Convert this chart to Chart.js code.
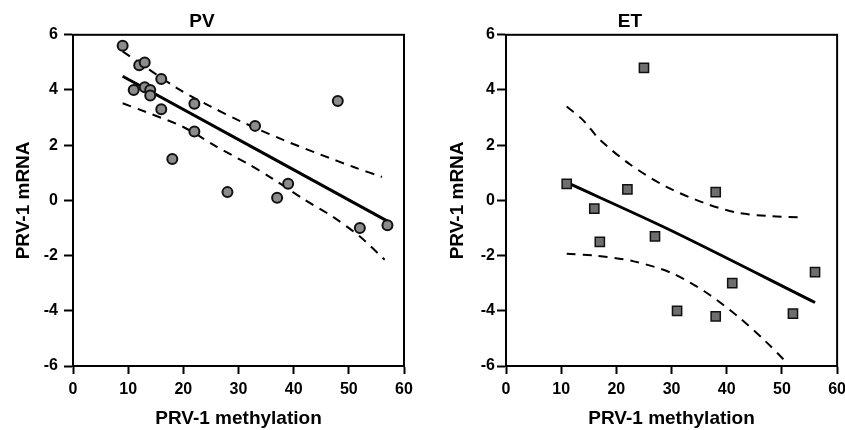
<!DOCTYPE html>
<html>
<head>
<meta charset="utf-8">
<script src="https://cdn.jsdelivr.net/npm/chart.js@4"></script>
<style>
  body { margin: 0; background: #fff; overflow: hidden; width: 845px; height: 430px; }
  canvas { position: absolute; top: 0; }
  #pvChart { left: 0; }
  #etChart { left: 422px; }
</style>
</head>
<body>
<canvas id="pvChart" width="422" height="430"></canvas>
<canvas id="etChart" width="430" height="430"></canvas>
<script>
// PV panel
const pvX = [9, 12, 13, 16, 11, 13, 14, 14, 16, 22, 22, 33, 18, 48, 28, 39, 37, 52, 57];
const pvY = [5.6, 4.9, 5.0, 4.4, 4.0, 4.1, 4.0, 3.8, 3.3, 3.5, 2.5, 2.7, 1.5, 3.6, 0.3, 0.6, 0.1, -1.0, -0.9];
const pvFitX = [9, 57];
const pvFitY = [4.5, -0.75];
const pvUpperX = [9, 19, 25, 30, 38, 45, 51, 56];
const pvUpperY = [5.4, 4.05, 3.4, 2.9, 2.2, 1.65, 1.2, 0.85];
const pvLowerX = [9, 13, 20, 26, 32, 36, 42, 47, 52, 56.5];
const pvLowerY = [3.52, 3.22, 2.66, 1.95, 1.29, 0.81, 0.02, -0.58, -1.31, -2.15];

// ET panel
const etX = [11, 25, 22, 38, 16, 17, 27, 31, 38, 41, 52, 56];
const etY = [0.6, 4.8, 0.4, 0.3, -0.3, -1.5, -1.3, -4.0, -4.2, -3.0, -4.1, -2.6];
const etFitX = [11, 30, 56];
const etFitY = [0.65, -1.1, -3.7];
const etUpperX = [11, 14, 17, 22.5, 29, 36, 42, 48, 54];
const etUpperY = [3.4, 2.9, 2.2, 1.3, 0.5, -0.1, -0.45, -0.57, -0.62];
const etLowerX = [11, 16, 23, 30, 36, 42, 47, 50.5];
const etLowerY = [-1.93, -2.0, -2.2, -2.63, -3.3, -4.2, -5.1, -5.8];

const xTicks = { min: 0, max: 60, step: 10 };
const yTicks = { min: -6, max: 6, step: 2 };

const FONT = '"Liberation Sans", Arial, sans-serif';

function pts(xs, ys) {
    return xs.map((x, i) => ({ x: x, y: ys[i] }));
}

// box around the plot area
const frame = {
    id: 'frame',
    afterDraw(chart) {
        const a = chart.chartArea;
        const c = chart.ctx;
        c.save();
        c.strokeStyle = '#000';
        c.lineWidth = 2;
        c.strokeRect(a.left, a.top, a.right - a.left, a.bottom - a.top);
        c.restore();
    }
};

function makeChart(id, title, xs, ys, fit, upper, lower, pointOpts, yWidth, titlePad, labelPad, padRight) {
    const dashed = {
        showLine: true,
        borderColor: '#000',
        borderWidth: 2,
        borderDash: [9, 7],
        pointRadius: 0,
        tension: 0.3,
        order: 1
    };
    return new Chart(document.getElementById(id), {
        type: 'scatter',
        data: {
            datasets: [
                Object.assign({ data: pts(xs, ys), order: 0 }, pointOpts),
                {
                    data: fit,
                    showLine: true,
                    borderColor: '#000',
                    borderWidth: 3,
                    pointRadius: 0,
                    tension: 0.3,
                    order: 1
                },
                Object.assign({ data: upper }, dashed),
                Object.assign({ data: lower }, dashed)
            ]
        },
        options: {
            responsive: false,
            animation: false,
            layout: { padding: { left: 0, right: padRight, top: 0, bottom: 0 } },
            plugins: {
                legend: { display: false },
                tooltip: { enabled: false },
                title: {
                    display: true,
                    text: title,
                    color: '#000',
                    font: { family: FONT, size: 19, weight: 'bold' },
                    padding: { top: 10, bottom: 2 }
                }
            },
            scales: {
                x: {
                    min: xTicks.min,
                    max: xTicks.max,
                    afterFit: (s) => { s.height = 64; },
                    ticks: {
                        stepSize: xTicks.step,
                        color: '#000',
                        padding: 6,
                        font: { family: FONT, size: 16, weight: 'bold' }
                    },
                    grid: {
                        drawOnChartArea: false,
                        tickLength: 8,
                        tickWidth: 2,
                        tickColor: '#000'
                    },
                    border: { color: '#000', width: 2 },
                    title: {
                        display: true,
                        text: 'PRV-1 methylation',
                        color: '#000',
                        font: { family: FONT, size: 19, weight: 'bold' },
                        padding: { top: 4, bottom: 0 }
                    }
                },
                y: {
                    min: yTicks.min,
                    max: yTicks.max,
                    afterFit: (s) => { s.width = yWidth; },
                    ticks: {
                        stepSize: yTicks.step,
                        color: '#000',
                        padding: labelPad,
                        font: { family: FONT, size: 16, weight: 'bold' }
                    },
                    grid: {
                        drawOnChartArea: false,
                        tickLength: 9,
                        tickWidth: 2,
                        tickColor: '#000'
                    },
                    border: { color: '#000', width: 2 },
                    title: {
                        display: true,
                        text: 'PRV-1 mRNA',
                        color: '#000',
                        font: { family: FONT, size: 19, weight: 'bold' },
                        padding: { top: titlePad, bottom: 0 }
                    }
                }
            }
        },
        plugins: [frame]
    });
}

makeChart('pvChart', 'PV', pvX, pvY,
    pts(pvFitX, pvFitY), pts(pvUpperX, pvUpperY), pts(pvLowerX, pvLowerY),
    { pointStyle: 'circle', pointRadius: 5, pointBackgroundColor: '#8c8c8c', pointBorderColor: '#111', pointBorderWidth: 2 },
    73, 12, 6, 18);

makeChart('etChart', 'ET', etX, etY,
    pts(etFitX, etFitY), pts(etUpperX, etUpperY), pts(etLowerX, etLowerY),
    { pointStyle: 'rect', pointRadius: 6.5, pointBackgroundColor: '#6e6e6e', pointBorderColor: '#111', pointBorderWidth: 1.5 },
    84, 24, 2, 14);
</script>
</body>
</html>
